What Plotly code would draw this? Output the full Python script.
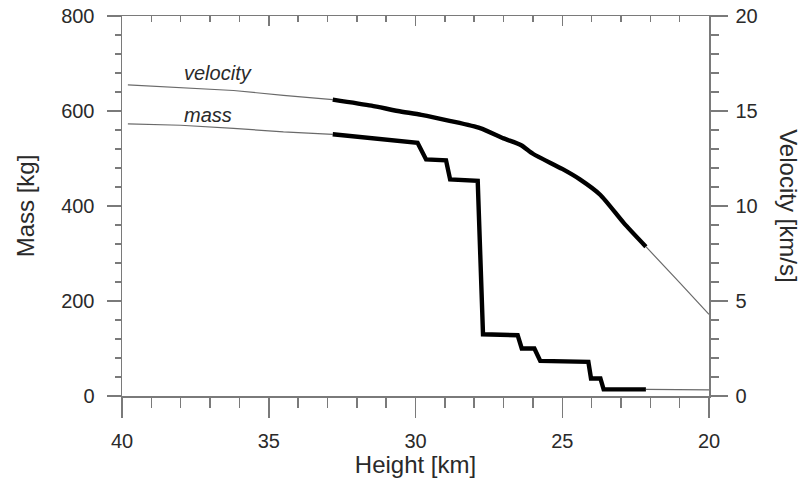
import plotly.graph_objects as go

# ---- data ----
mass_h_thin_start = [39.8, 38.0, 36.2, 34.5, 32.82]
mass_thin_start = [573, 570, 563.5, 556, 551]
mass_h_thick = [32.82, 31.5, 29.93, 29.64, 28.96, 28.82, 27.88, 27.70, 26.52,
                26.38, 25.95, 25.75, 24.11, 24.02, 23.70, 23.59, 22.15]
mass_thick = [551, 542.5, 533, 498, 496, 456, 453, 130, 128,
              100, 100, 74, 72, 37, 37, 14, 14]
mass_h_thin_end = [22.15, 20.0]
mass_thin_end = [14, 13]

vel_h_thin_start = [39.8, 38.0, 36.2, 34.5, 32.82]
vel_thin_start = [16.37, 16.23, 16.08, 15.82, 15.6]
vel_h_thick = [32.82, 31.5, 30.6, 29.8, 28.8, 27.8, 27.0, 26.4, 26.0, 25.0,
               24.4, 23.7, 22.9, 22.15]
vel_thick = [15.6, 15.28, 15.0, 14.8, 14.47, 14.1, 13.56, 13.2, 12.75, 11.95,
             11.4, 10.58, 9.1, 7.86]
vel_h_thin_end = [22.15, 21.0, 20.0]
vel_thin_end = [7.86, 5.97, 4.3]

x_ticks = [40, 35, 30, 25, 20]
mass_ticks = [0, 200, 400, 600, 800]
vel_ticks = [0, 5, 10, 15, 20]

# ---- styling ----
FONT = "Liberation Sans, Arial, sans-serif"
AXC = "#7a7a7a"
TXT = "#2a2a2a"
THIN = dict(color="#6a6a6a", width=1.2)
THICK = dict(color="#000000", width=4.4)

fig = go.Figure()

def add(x, y, line, yaxis="y"):
    fig.add_trace(go.Scatter(x=x, y=y, mode="lines", line=line, yaxis=yaxis,
                             showlegend=False, hoverinfo="skip"))

add(mass_h_thin_start, mass_thin_start, THIN)
add(mass_h_thick, mass_thick, THICK)
add(mass_h_thin_end, mass_thin_end, THIN)
add(vel_h_thin_start, vel_thin_start, THIN, "y2")
add(vel_h_thick, vel_thick, dict(THICK, shape="spline", smoothing=0.6), "y2")
add(vel_h_thin_end, vel_thin_end, dict(THIN, shape="spline", smoothing=0.6), "y2")
# empty trace for the top axis
fig.add_trace(go.Scatter(x=[], y=[], xaxis="x2", yaxis="y", showlegend=False,
                         hoverinfo="skip"))

fig.update_layout(
    width=804, height=478,
    margin=dict(l=122, r=95, t=16, b=82, autoexpand=False),
    paper_bgcolor="white", plot_bgcolor="white",
    font=dict(family=FONT, color=TXT),
    hovermode=False,
    xaxis=dict(
        range=[40, 20], autorange=False, tickvals=x_ticks, automargin=False,
        ticks="outside", ticklen=20, tickwidth=1.5, tickcolor=AXC,
        minor=dict(dtick=1, ticks="outside", ticklen=10, tickwidth=1.5, tickcolor=AXC),
        showline=True, linecolor=AXC, linewidth=1.5,
        showgrid=False, zeroline=False,
        tickfont=dict(size=20, color=TXT), ticklabelstandoff=6,
        ticklabeloverflow="allow",
        title=dict(text="Height [km]", font=dict(size=24, color=TXT), standoff=1),
    ),
    xaxis2=dict(
        range=[40, 20], autorange=False, overlaying="x", side="top", automargin=False,
        tickvals=x_ticks, ticks="inside", ticklen=10, tickwidth=1.5, tickcolor=AXC,
        minor=dict(dtick=1, ticks="inside", ticklen=6, tickwidth=1.5, tickcolor=AXC),
        showline=True, linecolor=AXC, linewidth=1.5,
        showgrid=False, zeroline=False, showticklabels=False,
    ),
    yaxis=dict(
        range=[0, 800], autorange=False, tickvals=mass_ticks, automargin=False,
        ticks="outside", ticklen=14, tickwidth=1.5, tickcolor=AXC,
        minor=dict(dtick=40, ticks="outside", ticklen=6, tickwidth=1.5, tickcolor=AXC),
        showline=True, linecolor=AXC, linewidth=1.5,
        showgrid=False, zeroline=False,
        tickfont=dict(size=20, color=TXT), ticklabelstandoff=8,
        ticklabeloverflow="allow",
        title=dict(text="Mass [kg]", font=dict(size=24, color=TXT), standoff=19),
    ),
    yaxis2=dict(
        range=[0, 20], autorange=False, overlaying="y", side="right", automargin=False,
        tickvals=vel_ticks,
        ticks="outside", ticklen=17, tickwidth=1.5, tickcolor=AXC,
        minor=dict(dtick=1, ticks="outside", ticklen=8, tickwidth=1.5, tickcolor=AXC),
        showline=True, linecolor=AXC, linewidth=1.5,
        showgrid=False, zeroline=False,
        tickfont=dict(size=20, color=TXT), ticklabelstandoff=4,
        ticklabeloverflow="allow",
    ),
    annotations=[
        dict(text="Velocity [km/s]", xref="paper", yref="paper", x=1.136, y=0.5,
             xanchor="center", yanchor="middle", textangle=90, showarrow=False,
             font=dict(size=24, color=TXT)),
        dict(text="<i>velocity</i>", xref="x", yref="y", x=37.95, y=680,
             xanchor="left", yanchor="middle", showarrow=False,
             font=dict(size=20, color=TXT)),
        dict(text="<i>mass</i>", xref="x", yref="y", x=37.95, y=592,
             xanchor="left", yanchor="middle", showarrow=False,
             font=dict(size=20, color=TXT)),
    ],
)

# remove the default page margin so the 804x478 figure fills the window
fig.write_html("out.html",
               config={"displayModeBar": False, "staticPlot": True},
               post_script="document.body.style.margin='0';"
                           "document.body.style.overflow='hidden';")
